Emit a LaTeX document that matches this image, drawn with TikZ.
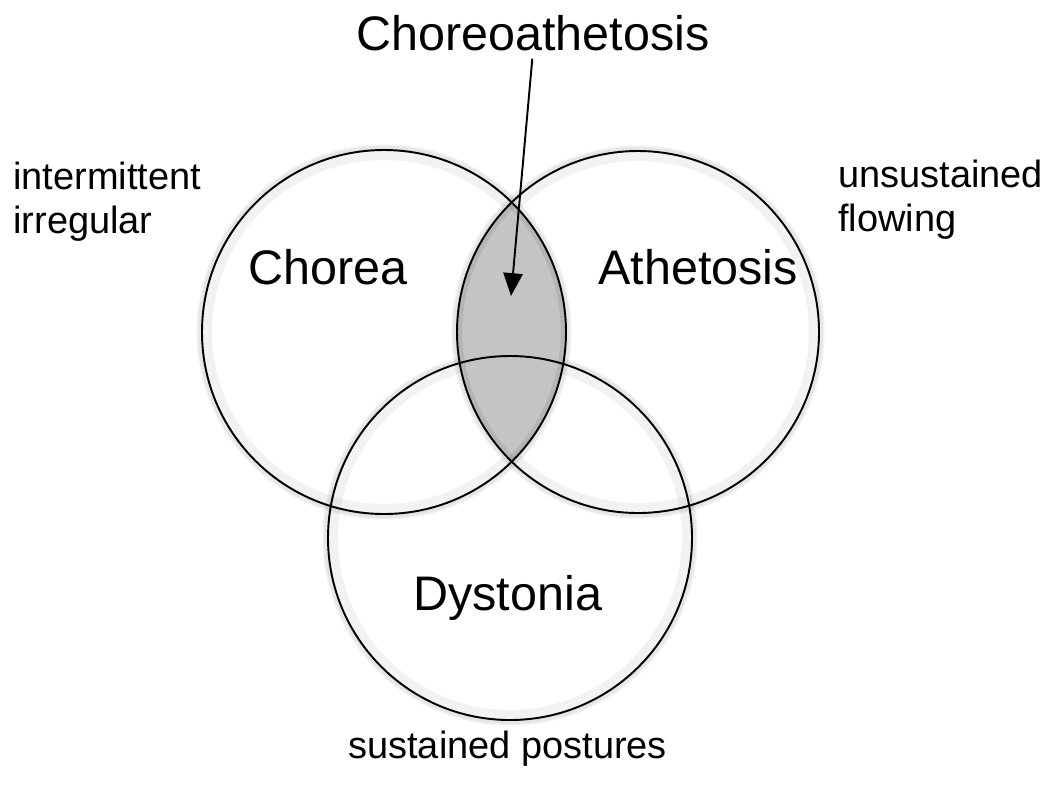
\documentclass[tikz,border=0pt]{standalone}
\usepackage{fontspec}
\setmainfont{Liberation Sans}
\usetikzlibrary{arrows.meta}

\definecolor{lensgray}{RGB}{196,196,196}

\begin{document}
\begin{tikzpicture}[
x=0.02cm, y=-0.02cm,
bigtext/.style={font=\fontsize{27.6}{33}\selectfont, inner sep=0pt},
smalltext/.style={font=\fontsize{21.6}{25}\selectfont, inner sep=0pt, align=left},
ring/.style={line width=1.1pt},
glow/.style={line width=8pt, black, opacity=0.05},
softglow/.style={line width=3pt, black, opacity=0.05},
arrow/.style={-{Triangle[length=13pt,width=11pt]},line width=1.1pt}
]
\useasboundingbox (0,0) rectangle (1050,785);

% soft shadows round the circles
\foreach \cx/\cy/\r in {384/332/182, 638/332/181, 510/538/182} {
  \draw[glow] (\cx,\cy) circle[radius=\r-3];
  \draw[softglow] (\cx,\cy) circle[radius=\r+3];
}

% shaded overlap of chorea and athetosis
\begin{scope}
\clip (384,332) circle[radius=182];
\clip (638,332) circle[radius=181];
\fill[lensgray] (0,0) rectangle (1050,785);
\draw[line width=6pt, black, opacity=0.08] (384,332) circle[radius=182];
\draw[line width=6pt, black, opacity=0.08] (638,332) circle[radius=181];
\end{scope}

% the three circles
\draw[ring] (384,332) circle[radius=182];
\draw[ring] (638,332) circle[radius=181];
\draw[ring] (510,538) circle[radius=182];

\node[bigtext, anchor=base] (title) at (533,50) {Choreoathetosis};
\coordinate (tip) at (511,296);
\draw[arrow, shorten <=4.5pt] (title.south) -- (tip);

\node[bigtext, anchor=base west] (chorea) at (248,284) {Chorea};
\node[bigtext, anchor=base west] (athetosis) at (598,284) {Athetosis};
\node[bigtext, anchor=base west] (dystonia) at (413,610) {Dystonia};

\node[smalltext, anchor=base west] (leftnote) at (13,233) {intermittent\\irregular};
\node[smalltext, anchor=base west] (rightnote) at (838,231) {unsustained\\flowing};
\node[smalltext, anchor=base west] (bottomnote) at (348,758) {sustained postures};

\end{tikzpicture}
\end{document}
